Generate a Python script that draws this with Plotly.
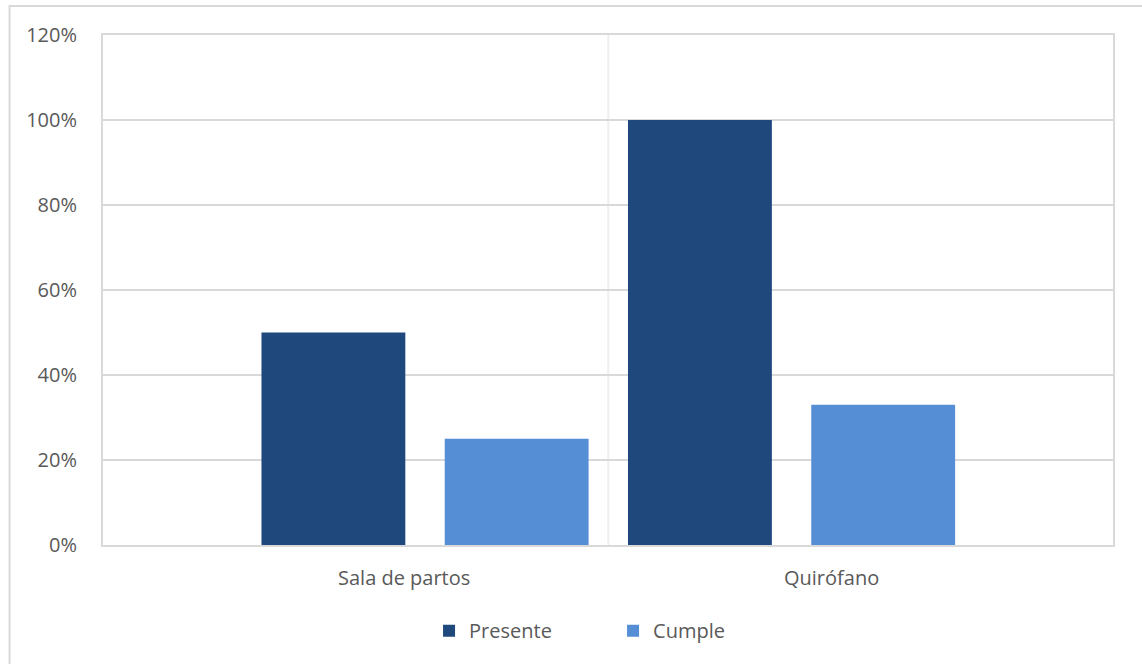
import plotly.graph_objects as go

# Datos: porcentaje por área
categorias = ["Sala de partos", "Quirófano"]
presente = [0.50, 1.00]
cumple = [0.25, 0.33]
series = ["Presente", "Cumple"]
colores = ["#1F497D", "#558ED5"]

texto = "#595959"
rejilla = "#D9D9D9"
fuente = "Open Sans"

fig = go.Figure()
for nombre, valores, color in zip(series, [presente, cumple], colores):
    fig.add_trace(go.Bar(
        name=nombre, x=categorias, y=valores,
        marker=dict(color=color, line=dict(width=0)),
        hovertemplate="%{x}: %{y:.0%}<extra>" + nombre + "</extra>",
    ))

# Etiquetas de categoría bajo el eje
pos_etiquetas = [-0.057, 1.108]
for cat, xp in zip(categorias, pos_etiquetas):
    fig.add_annotation(
        x=xp, xref="x", y=-0.063, yref="paper", text=cat, showarrow=False,
        xanchor="center", yanchor="middle",
        font=dict(family=fuente, size=20, color=texto),
    )

# Separador entre categorías
fig.add_shape(type="line", xref="x", yref="paper", x0=0.5, x1=0.5, y0=0, y1=1,
              line=dict(color="#EFEFEF", width=2), layer="below")

# Marco exterior del gráfico
fig.add_shape(type="rect", xref="paper", yref="paper",
              x0=-0.0925, x1=1.04, y0=-0.25, y1=1.057,
              line=dict(color=rejilla, width=2), fillcolor="rgba(0,0,0,0)")

fig.update_layout(
    width=1142, height=664,
    margin=dict(l=103, r=29, t=35, b=119),
    paper_bgcolor="white", plot_bgcolor="white",
    barmode="group", bargap=0.0, bargroupgap=0.215,
    font=dict(family=fuente, size=20, color=texto),
    showlegend=True,
    legend=dict(orientation="h", x=0.505, xanchor="center", y=-0.168, yanchor="middle",
                font=dict(family=fuente, size=20, color=texto),
                entrywidth=139, entrywidthmode="pixels", itemclick=False),
    xaxis=dict(
        type="category", range=[-0.8786, 1.877], showticklabels=False,
        showgrid=False, zeroline=False, ticks="",
        showline=True, linecolor=rejilla, linewidth=2, mirror=True,
    ),
    yaxis=dict(
        range=[0, 1.2], dtick=0.2, tick0=0, tickformat=".0%",
        showgrid=True, gridcolor=rejilla, gridwidth=2, zeroline=False,
        showline=True, linecolor=rejilla, linewidth=2, mirror=True,
        ticks="", ticklabelstandoff=20,
        tickfont=dict(family=fuente, size=20, color=texto),
    ),
)

fig.write_html("out.html")
